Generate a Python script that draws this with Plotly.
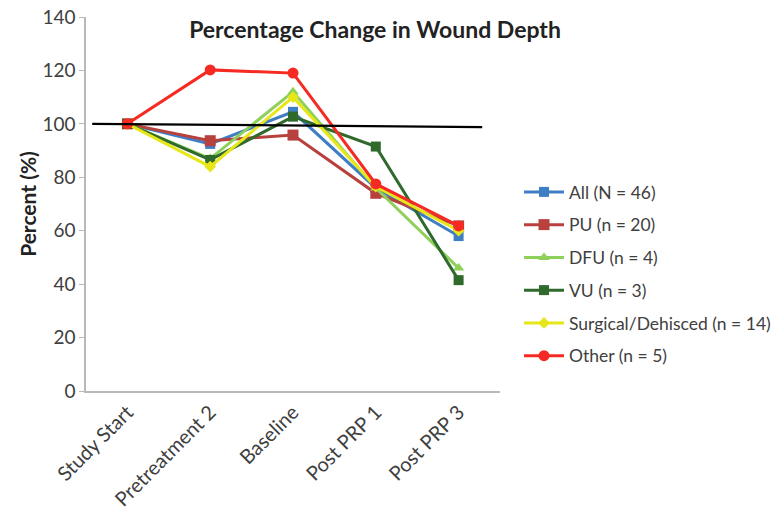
import plotly.graph_objects as go

# Time points and percentage wound depth per wound type
timepoints = ["Study Start", "Pretreatment 2", "Baseline", "Post PRP 1", "Post PRP 3"]
series_names = ["All (N = 46)", "PU (n = 20)", "DFU (n = 4)", "VU (n = 3)",
                "Surgical/Dehisced (n = 14)", "Other (n = 5)"]
all_vals = [100, 92.5, 104.5, 76, 58]
pu_vals = [100, 93.7, 95.8, 74, 61.8]
dfu_vals = [100, 87, 112, 76, 46]
vu_vals = [100, 86.5, 102.7, 91.5, 41.5]
surgical_vals = [100, 84, 110, 76.5, 60]
other_vals = [100, 120.2, 119, 77.5, 61.8]
reference_level = [100, 98.8]

colors = ["#3f7dc4", "#b8403d", "#8fd05a", "#2f6a2c", "#e6e619", "#f52a22"]
symbols = ["square", "square", "triangle-up", "square", "diamond", "circle"]
sizes = [10, 11, 10, 10, 9, 11]
values = [all_vals, pu_vals, dfu_vals, vu_vals, surgical_vals, other_vals]

fig = go.Figure()
for i, (name, vals, col, sym, sz) in enumerate(zip(series_names, values, colors, symbols, sizes)):
    fig.add_trace(go.Scatter(
        x=timepoints, y=vals, name=name, mode="lines+markers",
        legendgroup=f"g{i}",
        line=dict(color=col, width=3),
        marker=dict(color=col, symbol=sym, size=sz),
    ))

# Horizontal reference line near 100%
fig.add_shape(type="line", xref="paper", yref="y",
              x0=0.015, x1=0.957, y0=reference_level[0], y1=reference_level[1],
              line=dict(color="black", width=2.2), layer="above")

fig.update_layout(
    width=776, height=511,
    margin=dict(l=86, r=276, t=17, b=120, autoexpand=False),
    paper_bgcolor="white", plot_bgcolor="white",
    font=dict(family="Lato", color="#404040"),
    title=dict(text="<b>Percentage Change in Wound Depth</b>",
               x=375 / 776, xanchor="center", y=1 - 30 / 511, yanchor="middle",
               font=dict(size=23, color="#222222")),
    legend=dict(xref="container", yref="container",
                x=519 / 776, xanchor="left", y=1 - 174 / 511, yanchor="top",
                font=dict(size=17.5, color="#404040"),
                tracegroupgap=7, itemwidth=40,
                bgcolor="rgba(0,0,0,0)"),
    showlegend=True,
)
fig.update_xaxes(
    type="category", range=[-0.5, 4.5], automargin=False,
    showline=True, linecolor="#b8b8b8", linewidth=1.5,
    ticks="", tickangle=-45, tickfont=dict(size=20, color="#404040"),
    showgrid=False, zeroline=False,
)
fig.update_yaxes(
    range=[0, 140], dtick=20, automargin=False,
    showline=True, linecolor="#b8b8b8", linewidth=1.5,
    ticks="outside", ticklen=5, tickcolor="#b8b8b8",
    tickfont=dict(size=19, color="#404040"),
    showgrid=False, zeroline=False,
    title=dict(text="<b>Percent (%)</b>", font=dict(size=21, color="#222222"), standoff=0),
)

fig.write_html("out.html")
